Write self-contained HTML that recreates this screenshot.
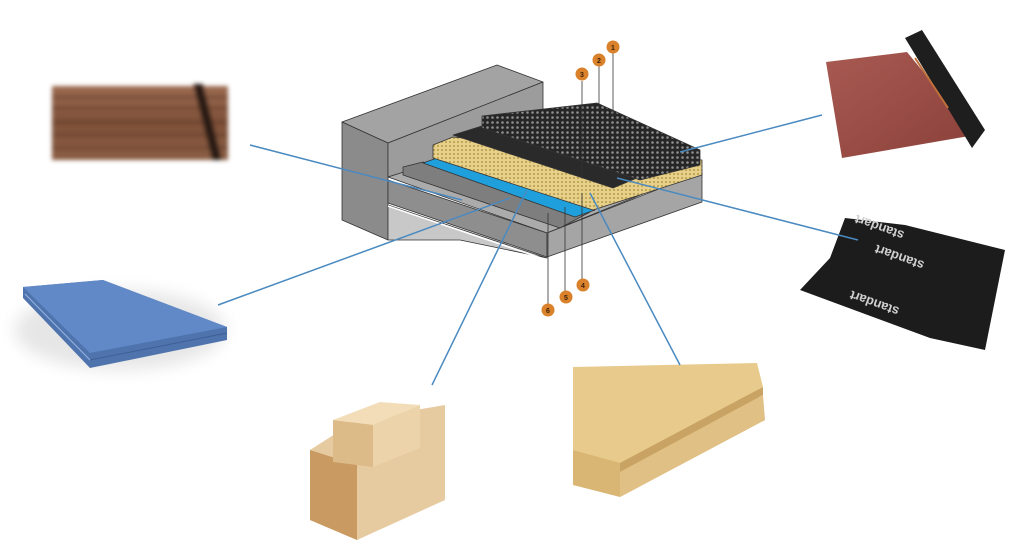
<!DOCTYPE html>
<html><head><meta charset="utf-8"><style>html,body{margin:0;padding:0;background:#fff;width:1024px;height:556px;overflow:hidden}</style></head>
<body>
<svg width="1024" height="556" viewBox="0 0 1024 556" xmlns="http://www.w3.org/2000/svg">
<defs>
<filter id="b" x="-20%" y="-20%" width="140%" height="140%"><feGaussianBlur stdDeviation="2"/></filter>
<filter id="bs" x="-30%" y="-30%" width="160%" height="160%"><feGaussianBlur stdDeviation="8"/></filter>
<pattern id="dots" width="5" height="5" patternUnits="userSpaceOnUse"><rect width="5" height="5" fill="#262626"/><circle cx="2.5" cy="2.5" r="1.3" fill="#8f8f8f"/></pattern>
<pattern id="ydots" width="4" height="4" patternUnits="userSpaceOnUse"><rect width="4" height="4" fill="#e6d08a"/><circle cx="2" cy="2" r="1" fill="#b89a48"/></pattern>
<linearGradient id="wood" x1="0" y1="0" x2="0" y2="1"><stop offset="0" stop-color="#9a6a50"/><stop offset="0.5" stop-color="#7e5038"/><stop offset="1" stop-color="#8a5e44"/></linearGradient>
<linearGradient id="red" x1="0" y1="0" x2="1" y2="1"><stop offset="0" stop-color="#a85a52"/><stop offset="1" stop-color="#8a4039"/></linearGradient>
</defs>

<!-- wood planks -->
<g filter="url(#b)">
<rect x="52" y="86" width="176" height="74" fill="url(#wood)"/>
<g stroke="#5a3626" stroke-width="2" opacity="0.7">
<line x1="52" y1="97" x2="228" y2="97"/><line x1="52" y1="108" x2="228" y2="108"/><line x1="52" y1="122" x2="228" y2="122"/><line x1="52" y1="135" x2="228" y2="135"/><line x1="52" y1="148" x2="228" y2="148"/></g>
<polygon points="193,84 203,84 222,160 212,160" fill="#2b1a12"/>
</g>

<!-- blue board -->
<g>
<ellipse cx="120" cy="330" rx="105" ry="40" fill="#e6e6e6" filter="url(#bs)"/>
<polygon points="23,287 103,280 227,327 227,340 90,368 23,298" fill="#4f73ad"/>
<polygon points="23,287 103,280 227,327 90,353" fill="#6189c7"/>
<line x1="25" y1="294" x2="90" y2="360" stroke="#8fb0e0" stroke-width="1.2"/>
<line x1="90" y1="360" x2="227" y2="333" stroke="#3e5f95" stroke-width="1"/>
</g>

<!-- red roll -->
<g>
<polygon points="826,62 907,52 975,135 842,158" fill="url(#red)"/>
<polygon points="905,38 922,30 985,130 972,148" fill="#1e1e1e"/>
<line x1="915" y1="58" x2="948" y2="108" stroke="#c0703a" stroke-width="2"/>
</g>

<!-- black membrane -->
<g>
<polygon points="845,218 905,225 1005,250 985,350 930,338 800,290 830,258" fill="#1c1c1c"/>
<text x="0" y="0" transform="translate(905,232) rotate(200)" font-family="Liberation Sans, sans-serif" font-size="13" font-weight="bold" fill="#d0d0d0">standart</text>
<text x="0" y="0" transform="translate(925,262) rotate(200)" font-family="Liberation Sans, sans-serif" font-size="13" font-weight="bold" fill="#d0d0d0">standart</text>
<text x="0" y="0" transform="translate(900,308) rotate(200)" font-family="Liberation Sans, sans-serif" font-size="13" font-weight="bold" fill="#d0d0d0">standart</text>
</g>

<!-- wood beams -->
<g>
<polygon points="310,450 357,420 445,405 445,500 357,540 310,520" fill="#e6cba0"/>
<polygon points="310,450 357,465 357,540 310,520" fill="#c99a62"/>
<polygon points="333,420 380,402 420,405 373,425" fill="#f2ddb8"/>
<polygon points="333,420 373,425 373,467 333,462" fill="#dcbb88"/>
<polygon points="373,425 420,405 420,448 373,467" fill="#ecd3aa"/>
</g>

<!-- OSB -->
<g>
<polygon points="573,400 757,390 765,420 620,497 573,485" fill="#d9b674"/>
<polygon points="573,367 757,363 763,387 620,463 573,450" fill="#e8cb8c"/>
<polygon points="620,463 763,387 763,395 620,472" fill="#c9a363"/>
<polygon points="620,472 763,395 765,420 620,497" fill="#e0c084"/>
</g>

<!-- central diagram -->
<g stroke="#333" stroke-width="0.8" stroke-linejoin="round">
<polygon points="342,122 497,65 543,82 388,143" fill="#a3a3a3"/>
<polygon points="342,122 388,143 388,240 342,220" fill="#8b8b8b"/>
<polygon points="388,143 543,82 543,130 388,177" fill="#9c9c9c"/>
<polygon points="388,205 547,258 460,240 388,240" fill="#c8c8c8"/>
<polygon points="388,177 543,128 702,170 547,233" fill="#ababab"/>
<polygon points="388,180 547,233 547,257 388,203" fill="#8e8e8e"/>
<polygon points="547,233 702,172 702,202 547,257" fill="#a5a5a5"/>
<polygon points="403,167 423,162 590,212 560,228 403,175" fill="#7e7e7e"/>
<polygon points="423,163 437,158 595,210 575,217" fill="#1fa0dc"/>
<polygon points="433,145 453,137 702,160 702,175 593,210 433,158" fill="url(#ydots)"/>
<polygon points="453,135 482,126 637,178 613,188" fill="#2a2a2a"/>
<polygon points="482,116 597,103 700,150 700,165 640,180 482,128" fill="url(#dots)"/>
</g>
<line x1="388" y1="206" x2="547" y2="260" stroke="#fff" stroke-width="1.5"/>

<!-- pins -->
<g stroke="#333" stroke-width="0.8">
<line x1="613" y1="53" x2="613" y2="117"/><line x1="599" y1="66" x2="599" y2="110"/><line x1="582" y1="81" x2="582" y2="178"/>
<line x1="582" y1="193" x2="582" y2="279"/><line x1="565" y1="207" x2="565" y2="291"/><line x1="548" y1="213" x2="548" y2="304"/>
</g>
<g fill="#d9822b" font-family="Liberation Sans, sans-serif" font-size="7" font-weight="bold" text-anchor="middle">
<circle cx="613" cy="47" r="6.5"/><circle cx="599" cy="60" r="6.5"/><circle cx="582" cy="74" r="6.5"/>
<circle cx="583" cy="285" r="6.5"/><circle cx="566" cy="297" r="6.5"/><circle cx="548" cy="310" r="6.5"/>
<g fill="#3a1e08"><text x="613" y="50">1</text><text x="599" y="63">2</text><text x="582" y="77">3</text><text x="583" y="288">4</text><text x="566" y="300">5</text><text x="548" y="313">6</text></g>
</g>

<!-- connectors -->
<g stroke="#4a8ac0" stroke-width="1.5">
<line x1="250" y1="145" x2="462" y2="200"/>
<line x1="218" y1="305" x2="510" y2="198"/>
<line x1="432" y1="385" x2="527" y2="190"/>
<line x1="680" y1="365" x2="590" y2="193"/>
<line x1="822" y1="115" x2="680" y2="152"/>
<line x1="858" y1="240" x2="617" y2="178"/>
</g>
</svg>
</body></html>
